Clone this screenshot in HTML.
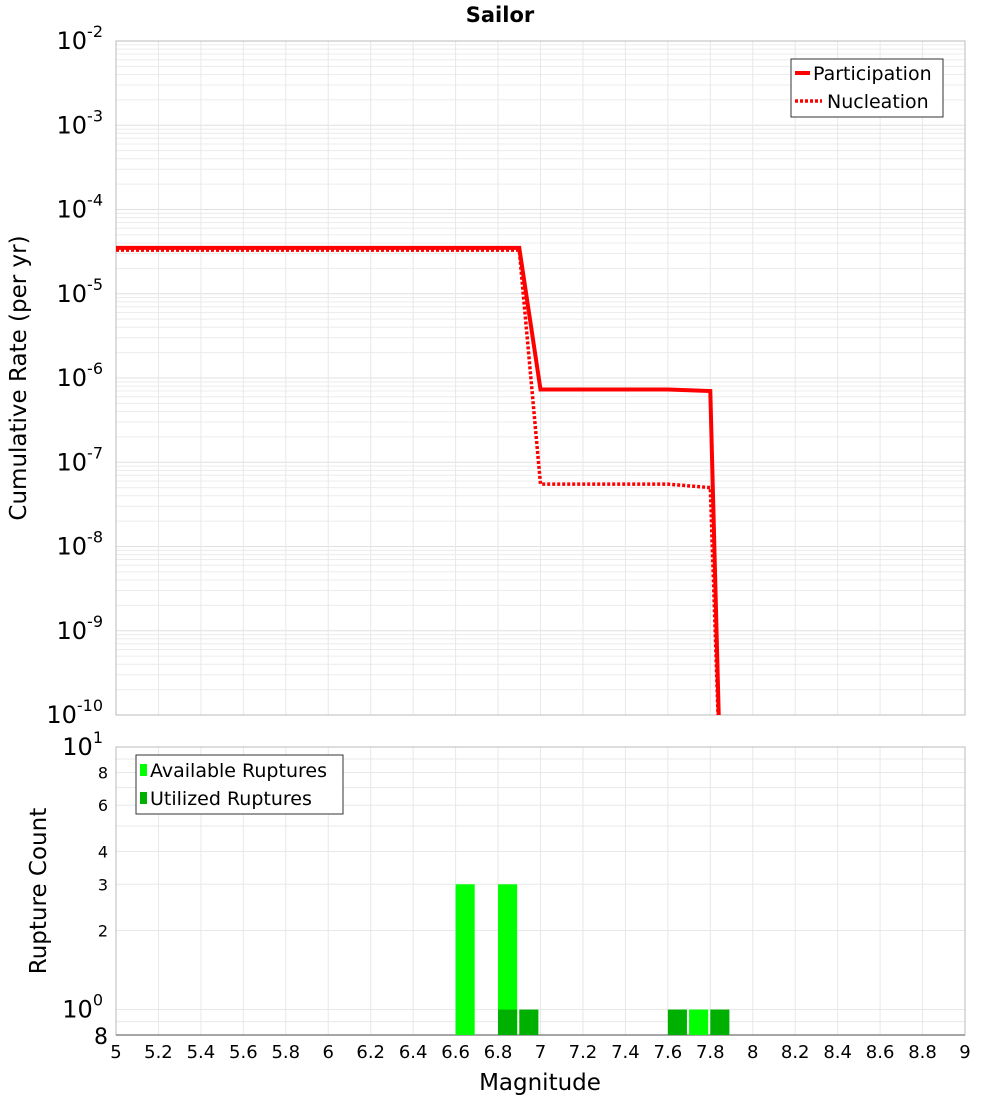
<!DOCTYPE html>
<html><head><meta charset="utf-8"><style>
body{margin:0;background:#fff;font-family:"Liberation Sans","DejaVu Sans",sans-serif}
svg text{font-family:"DejaVu Sans","Liberation Sans",sans-serif}
</style></head><body>
<svg id="c" width="1000" height="1100" xmlns="http://www.w3.org/2000/svg">
<text x="500" y="22" text-anchor="middle" font-size="21" font-weight="bold">Sailor</text>
<g id="g"></g>
</svg>
<script>
const partM=[5,6.9,7.0,7.6,7.8,7.85];
const partR=[3.5e-5,3.5e-5,7.3e-7,7.3e-7,7.0e-7,1e-11];
const nuclM=[5,6.9,7.0,7.6,7.8,7.85];
const nuclR=[3.3e-5,3.3e-5,5.5e-8,5.5e-8,5.0e-8,1e-11];
const availM=[6.6,6.8,7.7];
const availC=[3,3,1];
const usedM=[6.8,6.9,7.6,7.8];
const usedC=[1,1,1,1];
const xTicks=["5","5.2","5.4","5.6","5.8","6","6.2","6.4","6.6","6.8","7","7.2","7.4","7.6","7.8","8","8.2","8.4","8.6","8.8","9"];
const yExp=[-2,-3,-4,-5,-6,-7,-8,-9,-10];
const y2Ticks=[2,3,4,6,8];

const NS="http://www.w3.org/2000/svg",G=document.getElementById('g');
function el(t,a,p){const e=document.createElementNS(NS,t);for(const k in a)e.setAttribute(k,a[k]);(p||G).appendChild(e);return e;}
const L=116,R=965,T1=41,B1=715,T2=747,B2=1035;
const X=m=>L+(m-5)/4*(R-L);
const Y1=v=>T1+(-2-Math.log10(v))*(B1-T1)/8;
const lo=Math.log10(0.8);
const Y2=v=>B2-(Math.log10(v)-lo)/(1-lo)*(B2-T2);
for(let e=-10;e<-2;e++)for(let k=1;k<10;k++){const y=Y1(k*Math.pow(10,e));if(y>=T1&&y<=B1)el('line',{x1:L,x2:R,y1:y,y2:y,stroke:k==1?'#e0e0e0':'#ececec','stroke-width':1});}
[0.8,0.9,1,2,3,4,5,6,7,8,9,10].forEach(v=>{const y=Y2(v);el('line',{x1:L,x2:R,y1:y,y2:y,stroke:'#e8e8e8'});});
xTicks.forEach(t=>{const x=X(+t);el('line',{x1:x,x2:x,y1:T1,y2:B1,stroke:'#e8e8e8'});el('line',{x1:x,x2:x,y1:T2,y2:B2,stroke:'#e8e8e8'});
 const tx=el('text',{x:x,y:1058,'text-anchor':'middle','font-size':18});tx.textContent=t;
 
 });
el('rect',{x:L,y:T1,width:R-L,height:B1-T1,fill:'none',stroke:'#bbb'});
el('rect',{x:L,y:T2,width:R-L,height:B2-T2,fill:'none',stroke:'#bbb'});
el('line',{x1:L,x2:R,y1:B2,y2:B2,stroke:'#888','stroke-width':1.5});
yExp.forEach(e=>{const y=Y1(Math.pow(10,e));const t=el('text',{x:103,y:y+8,'text-anchor':'end','font-size':24});
 t.innerHTML='10<tspan dy="-12" font-size="16">'+e+'</tspan>';
 
 });
y2Ticks.forEach(v=>{const t=el('text',{x:108,y:Y2(v)+6,'text-anchor':'end','font-size':16});t.textContent=v;
 
 });
[[10,'1'],[1,'0']].forEach(([v,e])=>{const t=el('text',{x:103,y:Y2(v)+8,'text-anchor':'end','font-size':24});t.innerHTML='10<tspan dy="-12" font-size="16">'+e+'</tspan>';
 
 });
{const t=el('text',{x:108,y:B2+9,'text-anchor':'end','font-size':22});t.textContent='8';
 
 }
let a=el('text',{x:540,y:1090,'text-anchor':'middle','font-size':23});a.textContent='Magnitude';


a=el('text',{transform:'translate(26,378) rotate(-90)','text-anchor':'middle','font-size':23});a.textContent='Cumulative Rate (per yr)';


a=el('text',{transform:'translate(46,891) rotate(-90)','text-anchor':'middle','font-size':23});a.textContent='Rupture Count';


const bw=(X(5.09)-X(5));
availM.forEach((m,i)=>{const b=el('rect',{x:X(m),y:Y2(availC[i]),width:bw,height:B2-Y2(availC[i]),fill:'#00ff00'});
 
 });
usedM.forEach((m,i)=>{const b=el('rect',{x:X(m),y:Y2(usedC[i]),width:bw,height:B2-Y2(usedC[i]),fill:'#00b000'});
 
 });
const cp=el('clipPath',{id:'cl'});el('rect',{x:L,y:T1,width:R-L,height:B1-T1},cp);
function line(ms,rs,dash,name){const p=el('polyline',{points:ms.map((m,i)=>X(m)+','+Y1(rs[i])).join(' '),fill:'none',stroke:'#ff0000','stroke-width':dash?3.5:4,'clip-path':'url(#cl)'});
 if(dash)p.setAttribute('stroke-dasharray','3,2');
 
 }
line(nuclM,nuclR,true,'nucleation-line');
line(partM,partR,false,'participation-line');
const lg=el('g',{});
el('rect',{x:791,y:59,width:152,height:58,fill:'#fff',stroke:'#333'},lg);
el('line',{x1:795,x2:810,y1:73,y2:73,stroke:'red','stroke-width':4},lg);
el('line',{x1:795,x2:822,y1:101,y2:101,stroke:'red','stroke-width':3.5,'stroke-dasharray':'3,2'},lg);
let t=el('text',{x:813,y:80,'font-size':19},lg);t.textContent='Participation';
t=el('text',{x:827,y:108,'font-size':19},lg);t.textContent='Nucleation';
const lg2=el('g',{});
el('rect',{x:136,y:755,width:207,height:59,fill:'#fff',stroke:'#333'},lg2);
el('rect',{x:140,y:764,width:7,height:12,fill:'#00ff00'},lg2);
el('rect',{x:140,y:792,width:7,height:12,fill:'#00b000'},lg2);
t=el('text',{x:150,y:777,'font-size':19},lg2);t.textContent='Available Ruptures';
t=el('text',{x:150,y:805,'font-size':19},lg2);t.textContent='Utilized Ruptures';
</script>
</body></html>
